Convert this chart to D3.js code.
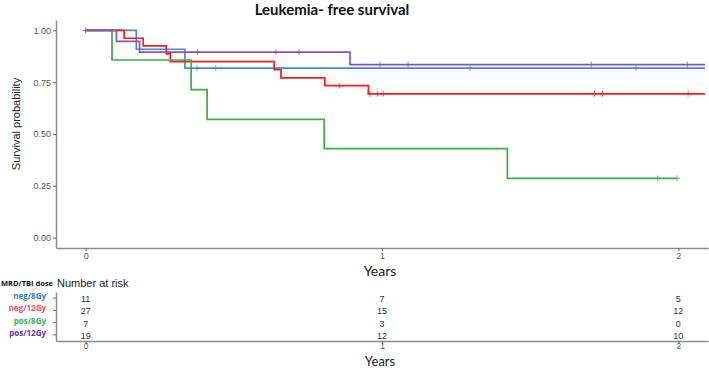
<!DOCTYPE html>
<html>
<head>
<meta charset="utf-8">
<script src="https://cdn.jsdelivr.net/npm/d3@7"></script>
<style>
  html, body { margin: 0; padding: 0; background: #fff; }
  svg { display: block; }
</style>
</head>
<body>
<div id="chart"></div>
<script>
// groups (legend order)
const groups = ["neg/8Gy", "neg/12Gy", "pos/8Gy", "pos/12Gy"];
const lineColors = ["#3b8fd6", "#ff1a1a", "#3cb03c", "#8a4fc4"];
const labelColors = ["#2b7bd0", "#ff4a5e", "#2fb06a", "#6a2fb0"];

// step curves: event times (years) and survival after each step
const negLowTimes = [0, 0.171, 0.335, 2.09];
const negLowSurv = [1, 0.909, 0.818, 0.818];
const negHighTimes = [0, 0.130, 0.194, 0.272, 0.286, 0.636, 0.659, 0.807, 0.954, 2.09];
const negHighSurv = [1, 0.962, 0.925, 0.887, 0.849, 0.810, 0.771, 0.733, 0.694, 0.694];
const posLowTimes = [0, 0.089, 0.356, 0.410, 0.805, 1.423, 1.996];
const posLowSurv = [1, 0.857, 0.714, 0.571, 0.429, 0.286, 0.286];
const posHighTimes = [0, 0.104, 0.182, 0.892, 2.09];
const posHighSurv = [1, 0.947, 0.895, 0.835, 0.835];

// censoring marks (years)
const negLowCens = [0.376, 0.439, 1.297, 1.857];
const negHighCens = [0, 0.856, 0.959, 0.984, 1.004, 1.717, 1.744, 2.033];
const posLowCens = [1.930, 1.996];
const posHighCens = [0.378, 0.642, 0.720, 0.993, 1.088, 1.706, 2.030];

// number at risk at 0, 1, 2 years
const riskTimes = [0, 1, 2];
const negLowRisk = [11, 7, 5];
const negHighRisk = [27, 15, 12];
const posLowRisk = [7, 3, 0];
const posHighRisk = [19, 12, 10];

const yTicks = [0, 0.25, 0.5, 0.75, 1];

const series = [
    { times: negLowTimes, surv: negLowSurv, cens: negLowCens, risk: negLowRisk },
    { times: negHighTimes, surv: negHighSurv, cens: negHighCens, risk: negHighRisk },
    { times: posLowTimes, surv: posLowSurv, cens: posLowCens, risk: posLowRisk },
    { times: posHighTimes, surv: posHighSurv, cens: posHighCens, risk: posHighRisk }
];

const width = 709, height = 370;
const svg = d3.select("#chart").append("svg")
    .attr("width", width)
    .attr("height", height);

const axisGrey = "#8c8c8c";
const tickFont = "'Liberation Sans', Arial, sans-serif";

// scales
const x = d3.scaleLinear().domain([-0.1, 2.1]).range([56, 708]);
const y = d3.scaleLinear().domain([-0.05, 1.05]).range([248, 20]);

// title
svg.append("text")
    .attr("x", 332).attr("y", 15)
    .attr("text-anchor", "middle")
    .attr("font-family", "Lato, 'Open Sans', sans-serif")
    .attr("font-weight", "bold")
    .attr("font-size", 15)
    .attr("fill", "#111")
    .text("Leukemia- free survival");

// y axis
const yAxis = svg.append("g")
    .attr("transform", "translate(56,0)")
    .call(d3.axisLeft(y).tickValues(yTicks).tickFormat(d3.format(".2f")).tickSize(3).tickSizeOuter(0));
yAxis.select(".domain").attr("stroke", axisGrey).attr("stroke-width", 1.5);
yAxis.selectAll(".tick line").attr("stroke", "#666");
yAxis.selectAll(".tick text")
    .attr("font-family", tickFont).attr("font-size", 9).attr("fill", "#555").attr("x", -5);

// x axis
const xAxis = svg.append("g")
    .attr("transform", "translate(0,248)")
    .call(d3.axisBottom(x).tickValues(riskTimes).tickFormat(d3.format("d")).tickSize(3).tickSizeOuter(0));
xAxis.select(".domain").attr("stroke", axisGrey).attr("stroke-width", 1.5);
xAxis.selectAll(".tick line").attr("stroke", "#666");
xAxis.selectAll(".tick text")
    .attr("font-family", tickFont).attr("font-size", 9).attr("fill", "#555").attr("y", 5);

svg.append("text")
    .attr("transform", "translate(20,124) rotate(-90)")
    .attr("text-anchor", "middle")
    .attr("font-family", tickFont)
    .attr("font-size", 11)
    .attr("fill", "#222")
    .text("Survival probability");

svg.append("text")
    .attr("x", 380).attr("y", 276)
    .attr("text-anchor", "middle")
    .attr("font-family", "Lato, 'Open Sans', sans-serif")
    .attr("font-size", 14)
    .attr("fill", "#222")
    .text("Years");

// curves
const line = d3.line()
    .x(d => x(d.t))
    .y(d => y(d.s))
    .curve(d3.curveStepAfter);

series.forEach((s, gi) => {
    const pts = s.times.map((t, i) => ({ t: t, s: s.surv[i] }));
    svg.append("path")
        .datum(pts)
        .attr("fill", "none")
        .attr("stroke", lineColors[gi])
        .attr("stroke-width", 1.7)
        .attr("d", line);

    // survival value at a time (step function)
    const survAt = t => {
        let v = 1;
        s.times.forEach((tt, i) => { if (tt <= t) v = s.surv[i]; });
        return v;
    };
    const marks = svg.append("g")
        .attr("stroke", lineColors[gi])
        .attr("stroke-width", 1)
        .attr("opacity", 0.75);
    s.cens.forEach(t => {
        const cx = x(t), cy = y(survAt(t));
        marks.append("line").attr("x1", cx - 3).attr("x2", cx + 3).attr("y1", cy).attr("y2", cy);
        marks.append("line").attr("x1", cx).attr("x2", cx).attr("y1", cy - 3).attr("y2", cy + 3);
    });
});

// risk table
const yr = d3.scaleBand().domain(groups).range([292, 341]).padding(0);

svg.append("text")
    .attr("x", 1).attr("y", 286)
    .attr("font-family", "'Open Sans', sans-serif")
    .attr("font-weight", "bold")
    .attr("font-size", 7.5)
    .attr("fill", "#111")
    .text("MRD/TBI dose");

svg.append("text")
    .attr("x", 57).attr("y", 287)
    .attr("font-family", tickFont)
    .attr("font-size", 11)
    .attr("fill", "#222")
    .text("Number at risk");

const ryAxis = svg.append("g")
    .attr("transform", "translate(56,0)")
    .call(d3.axisLeft(yr).tickSize(3).tickSizeOuter(0).tickFormat(""));
ryAxis.select(".domain").attr("stroke", axisGrey).attr("stroke-width", 1.5);
ryAxis.selectAll(".tick line").attr("stroke", "#666");

groups.forEach((g, gi) => {
    svg.append("text")
        .attr("x", 46).attr("y", yr(g) + yr.bandwidth() / 2 + 1)
        .attr("text-anchor", "end")
        .attr("font-family", "'Open Sans', sans-serif")
        .attr("font-weight", "bold")
        .attr("font-size", 8)
        .attr("fill", labelColors[gi])
        .text(g);
    series[gi].risk.forEach((n, i) => {
        svg.append("text")
            .attr("x", x(riskTimes[i])).attr("y", yr(g) + yr.bandwidth() / 2 + 4)
            .attr("text-anchor", "middle")
            .attr("font-family", tickFont)
            .attr("font-size", 9)
            .attr("fill", "#333")
            .text(n);
    });
});

const rxAxis = svg.append("g")
    .attr("transform", "translate(0,341)")
    .call(d3.axisBottom(x).tickValues(riskTimes).tickFormat(d3.format("d")).tickSize(3).tickSizeOuter(0));
rxAxis.select(".domain").attr("stroke", axisGrey).attr("stroke-width", 1.5);
rxAxis.selectAll(".tick line").attr("stroke", "#666");
rxAxis.selectAll(".tick text")
    .attr("font-family", tickFont).attr("font-size", 8.5).attr("fill", "#555").attr("y", 2);

svg.append("text")
    .attr("x", 380).attr("y", 366)
    .attr("text-anchor", "middle")
    .attr("font-family", "Lato, 'Open Sans', sans-serif")
    .attr("font-size", 13)
    .attr("fill", "#222")
    .text("Years");
</script>
</body>
</html>
